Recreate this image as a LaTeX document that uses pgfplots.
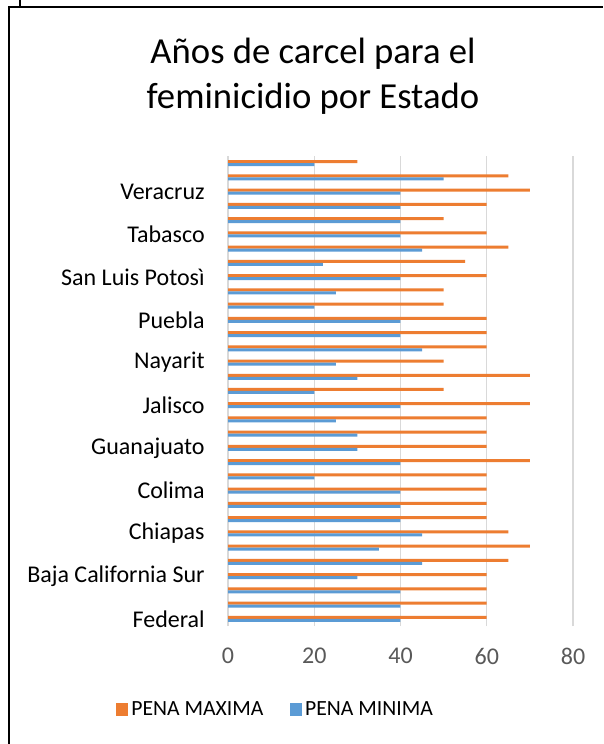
\documentclass[border=0pt]{standalone}
\usepackage{fontspec}
\setmainfont{Carlito}
\usepackage{pgfplots}
\usepackage{pgfplotstable}
\pgfplotsset{compat=1.18}
\definecolor{cOrange}{HTML}{ED7D31}
\definecolor{cBlue}{HTML}{5B9BD5}
\definecolor{cGrid}{HTML}{D9D9D9}
\definecolor{cTick}{HTML}{595959}

\pgfplotstableread{
idx max min
0 60 40
1 60 40
2 60 40
3 60 30
4 65 45
5 70 35
6 65 45
7 60 40
8 60 40
9 60 40
10 60 20
11 70 40
12 60 30
13 60 30
14 60 25
15 70 40
16 50 20
17 70 30
18 50 25
19 60 45
20 60 40
21 60 40
22 50 20
23 50 25
24 60 40
25 55 22
26 65 45
27 60 40
28 50 40
29 60 40
30 70 40
31 65 50
32 30 20
}\datatable

\begin{document}
\begin{tikzpicture}
\useasboundingbox (0,0) rectangle (361.8pt,446.4pt);
\fill[white] (0,0) rectangle (361.8pt,446.4pt);
\draw[line width=1.2pt] (5.4pt,0) -- (5.4pt,442.2pt) -- (361.8pt,442.2pt);
\draw[line width=1.2pt] (12pt,442.2pt) -- (12pt,446.4pt);
\node[font=\fontsize{22}{27}\selectfont, align=center, text=black] at (187.8pt,400.5pt) {Años de carcel para el\\feminicidio por Estado};
\begin{axis}[
 at={(136.8pt,70.8pt)}, anchor=south west,
 scale only axis, width=207pt, height=282pt,
 xbar, bar width=1.8pt,
 xmin=0, xmax=80, ymin=-0.5, ymax=32.5,
 xtick={0,20,40,60,80},
 ytick={0,3,...,30},
 yticklabels={Federal, Baja California Sur, Chiapas, Colima, Guanajuato, Jalisco, Nayarit, Puebla, San Luis Potosì, Tabasco, Veracruz},
 axis line style={draw=none},
 major tick length=0pt,
 xmajorgrids, grid style={cGrid, line width=0.8pt},
 /pgf/number format/assume math mode=true,
 xticklabel style={font=\fontsize{14.4}{17}\selectfont, text=cTick, inner sep=0pt, anchor=north, yshift=-13.2pt},
 yticklabel style={font=\fontsize{14.4}{17}\selectfont, text=black, inner sep=0pt, anchor=east, xshift=-13.8pt},
 legend style={draw=none, fill=none, at={(axis description cs:0.14,-0.178)}, anchor=center, legend columns=2, font=\fontsize{13}{15}\selectfont, /tikz/every even column/.append style={column sep=14pt}},
 legend image code/.code={\fill[#1] (0pt,-3.8pt) rectangle (7pt,3.8pt);},
]
\addplot[fill=cOrange, draw=none, bar shift=0.9pt] table[x=max,y=idx]{\datatable};
\addplot[fill=cBlue, draw=none, bar shift=-0.9pt] table[x=min,y=idx]{\datatable};
\legend{PENA MAXIMA, PENA MINIMA}
\end{axis}
\end{tikzpicture}
\end{document}
